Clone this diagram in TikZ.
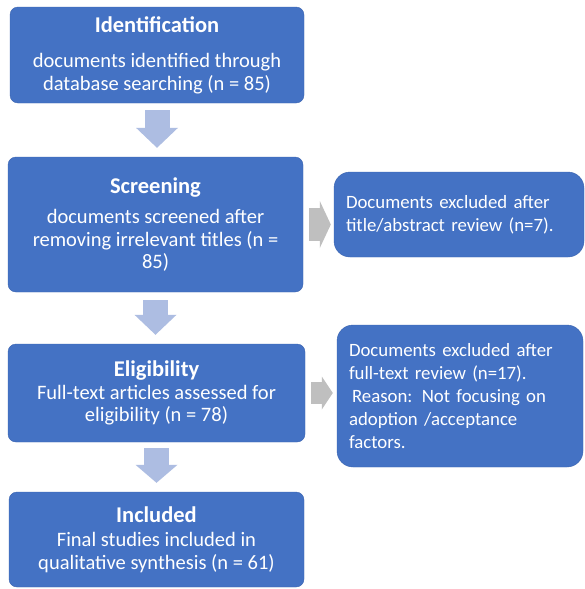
\documentclass[tikz,border=0pt]{standalone}
\usepackage{fontspec}
\setmainfont{Carlito}
\usetikzlibrary{arrows.meta,positioning}
\usepackage{xcolor}
\definecolor{BoxBlue}{HTML}{4472C4}
\definecolor{EdgeBlue}{HTML}{3A64B0}
\definecolor{ArrBlue}{HTML}{ADBDE2}
\definecolor{ArrGray}{HTML}{BFBFBF}
\newcommand{\stagetitle}[1]{{\fontsize{22.5}{22}\selectfont\bfseries #1}}

\begin{document}
\begin{tikzpicture}[x=1pt,y=-1pt,
    stage/.style={draw=EdgeBlue,fill=BoxBlue,text=white,rounded corners=8pt,
      align=center,inner sep=0pt,font=\fontsize{20.5}{22.5}\selectfont},
    exclbox/.style={draw=EdgeBlue,fill=BoxBlue,text=white,rounded corners=16pt,
      align=left,inner xsep=12pt,inner ysep=0pt,font=\fontsize{18.8}{23}\selectfont},
    downarr/.style={ArrBlue,line width=25pt,
      -{Triangle[width=42pt,length=#1,line width=0pt]}},
    sidearr/.style 2 args={ArrGray,line width=#1,
      -{Triangle[width=#2,length=11pt,line width=0pt]}}]
    \path[use as bounding box,fill=white] (0,0) rectangle (585,589);

    % main stages
    \node[stage,minimum width=294,minimum height=96] (ident) at (157,55)
      {\stagetitle{Identification}\\[13pt]documents identified through\\database searching (n = 85)};
    \node[stage,minimum width=295,minimum height=135] (screen) at (155.5,224.5)
      {\stagetitle{Screening}\\[8pt]documents screened after\\removing irrelevant titles (n =\\85)};
    \node[stage,minimum width=297,minimum height=98] (elig) at (156.5,393)
      {\stagetitle{Eligibility}\\[0pt]Full-text articles assessed for\\eligibility (n = 78)};
    \node[stage,minimum width=295,minimum height=95] (incl) at (156.5,539.5)
      {\stagetitle{Included}\\[2pt]Final studies included in\\qualitative synthesis (n = 61)};

    % exclusions
    \node[exclbox,text width=226,minimum height=85] (excl1) at (459,214.5)
      {Documents excluded after\\title/abstract review (n=7).};
    \node[exclbox,text width=222,minimum height=142] (excl2) at (460,396)
      {Documents excluded after\\full-text review (n=17).\\\hspace{3pt}Reason: Not focusing on\\adoption /acceptance\\factors.};

    \draw[downarr=20pt,shorten <=7pt,shorten >=9pt] (ident.south) -- (ident.south |- screen.north);
    \draw[downarr=20pt,shorten <=8pt,shorten >=9pt] (screen.south) -- (screen.south |- elig.north);
    \draw[downarr=18pt,shorten <=6pt,shorten >=9pt] (elig.south) -- (elig.south |- incl.north);
    \draw[sidearr={33pt}{47pt},shorten <=6pt,shorten >=3pt] (screen.east) -- (screen.east -| excl1.west);
    \draw[sidearr={22pt}{33pt},shorten <=6pt,shorten >=4pt] (elig.east) -- (elig.east -| excl2.west);
  \end{tikzpicture}
\end{document}
